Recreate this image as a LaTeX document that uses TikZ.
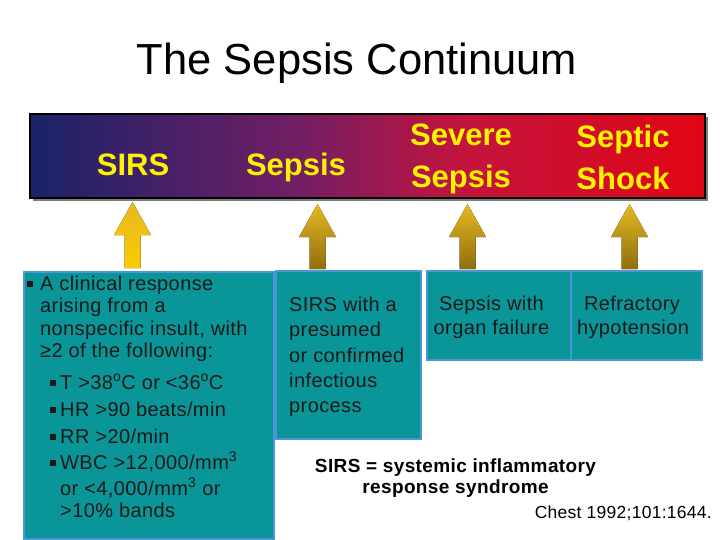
\documentclass[tikz,border=0pt]{standalone}
\usepackage{fontspec}
\setmainfont{Liberation Sans}
\usetikzlibrary{calc}
\definecolor{barL}{RGB}{25,35,105}
\definecolor{barM}{RGB}{115,30,100}
\definecolor{barRR}{RGB}{195,20,62}
\definecolor{barR}{RGB}{225,5,20}
\definecolor{tealfill}{RGB}{10,150,152}
\definecolor{tealedge}{RGB}{75,150,215}
\definecolor{labely}{RGB}{255,242,0}
\definecolor{goldtop}{RGB}{228,185,35}
\definecolor{goldmid}{RGB}{180,140,15}
\definecolor{goldbot}{RGB}{145,110,12}
\definecolor{goldyel}{RGB}{252,202,0}
\definecolor{txt}{RGB}{25,25,25}
\definecolor{shadowgray}{RGB}{125,125,125}
\pgfdeclarehorizontalshading{sepsisbar}{100bp}{color(0bp)=(barL); color(25bp)=(barL); color(45bp)=(barM); color(57bp)=(barRR); color(75bp)=(barR); color(100bp)=(barR)}
\newcommand\bul{\rule[3.5pt]{5.5pt}{5.5pt}}
\newcommand\goldarrow[3]{%
  \fill[#3] ($(#1)+(-8,0)$) -- ($(#2)+(-8,33)$) -- ($(#2)+(-18.5,33)$) -- (#2)
    -- ($(#2)+(18.5,33)$) -- ($(#2)+(8,33)$) -- ($(#1)+(8,0)$) -- cycle;}
\begin{document}
\begin{tikzpicture}[x=1pt,y=-1pt,
  barlabel/.style={text=labely,font=\fontsize{31}{36}\selectfont\bfseries,inner sep=0,anchor=base},
  tealbox/.style={fill=tealfill,draw=tealedge,line width=2pt,inner sep=0,anchor=north west},
  bt/.style={text=txt,font=\fontsize{20}{24}\selectfont\addfontfeature{LetterSpace=2},inner sep=0,anchor=base west},
  ct/.style={text=txt,font=\fontsize{20}{24}\selectfont\addfontfeature{LetterSpace=2},inner sep=0,anchor=base},
  deftext/.style={font=\fontsize{19}{23}\selectfont\bfseries\addfontfeature{LetterSpace=2},inner sep=0,anchor=base},
  arrowshade/.style={top color=goldtop,bottom color=goldbot},
  sirsshade/.style={top color=goldtop,middle color=goldmid,bottom color=goldyel}]
\useasboundingbox (0,0) rectangle (720,540);
% title
\node[font=\fontsize{43.5}{50}\selectfont,inner sep=0,anchor=base] (title) at (357,75) {The Sepsis Continuum};
% bar with shadow
\fill[shadowgray] (33,117) rectangle (708,201);
\node[shade,shading=sepsisbar,draw=black,line width=1.6pt,minimum width=675pt,minimum height=84pt,inner sep=0,anchor=north west] (bar) at (29,113) {};
\node[barlabel] (lsirs) at (133,176) {SIRS};
\node[barlabel] (lsepsis) at (296,176) {Sepsis};
\node[barlabel] (lsev1) at (461,146) {Severe};
\node[barlabel] (lsev2) at (461,188) {Sepsis};
\node[barlabel] (lsep1) at (623,148) {Septic};
\node[barlabel] (lsep2) at (623,190) {Shock};
% boxes
\node[tealbox,minimum width=250pt,minimum height=267pt] (b1) at (23,271) {};
\node[tealbox,minimum width=145pt,minimum height=168pt] (b2) at (275,270) {};
\node[tealbox,minimum width=144pt,minimum height=89pt] (b3) at (426,270) {};
\node[tealbox,minimum width=131pt,minimum height=89pt] (b4) at (570,270) {};
% arrows
\coordinate (a1s) at (132.5,268); \coordinate (a1e) at (132.5,202);
\coordinate (a2s) at (317.5,269); \coordinate (a2e) at (317.5,204);
\coordinate (a3s) at (467.5,269); \coordinate (a3e) at (467.5,204);
\coordinate (a4s) at (629.5,269); \coordinate (a4e) at (629.5,204);
\goldarrow{a1s}{a1e}{sirsshade}
\goldarrow{a2s}{a2e}{arrowshade}
\goldarrow{a3s}{a3e}{arrowshade}
\goldarrow{a4s}{a4e}{arrowshade}
% box 1 text
\node[bt] (t1) at (27,290) {\bul\hspace{7.5pt}A clinical response};
\node[bt] (t2) at (40,312) {arising from a};
\node[bt] (t3) at (40,335) {nonspecific insult, with};
\node[bt] (t4) at (40,357) {≥2 of the following:};
\node[bt] (t5) at (50,389) {\bul\hspace{4.5pt}T >38\textsuperscript{o}C or <36\textsuperscript{o}C};
\node[bt] (t6) at (50,416) {\bul\hspace{4.5pt}HR >90 beats/min};
\node[bt] (t7) at (50,443) {\bul\hspace{4.5pt}RR >20/min};
\node[bt] (t8) at (50,469) {\bul\hspace{4.5pt}WBC >12,000/mm\textsuperscript{3}};
\node[bt] (t9) at (60,495) {or <4,000/mm\textsuperscript{3} or};
\node[bt] (t10) at (60,517) {>10\% bands};
% box 2 text
\node[bt] (u1) at (289,311) {SIRS with a};
\node[bt] (u2) at (289,336) {presumed};
\node[bt] (u3) at (289,362) {or confirmed};
\node[bt] (u4) at (289,387) {infectious};
\node[bt] (u5) at (289,412) {process};
% box 3, 4 text
\node[ct] (v1) at (491.5,310) {Sepsis with};
\node[ct] (v2) at (491.5,334) {organ failure};
\node[ct] (w1) at (632,310) {Refractory};
\node[ct] (w2) at (633,334) {hypotension};
% definition and reference
\node[deftext] (d1) at (455.5,472) {SIRS = systemic inflammatory};
\node[deftext] (d2) at (455.5,493) {response syndrome};
\node[font=\fontsize{17.5}{21}\selectfont\addfontfeature{LetterSpace=1.5},inner sep=0,anchor=base east] (ref) at (712,518) {Chest 1992;101:1644.};
\end{tikzpicture}
\end{document}
